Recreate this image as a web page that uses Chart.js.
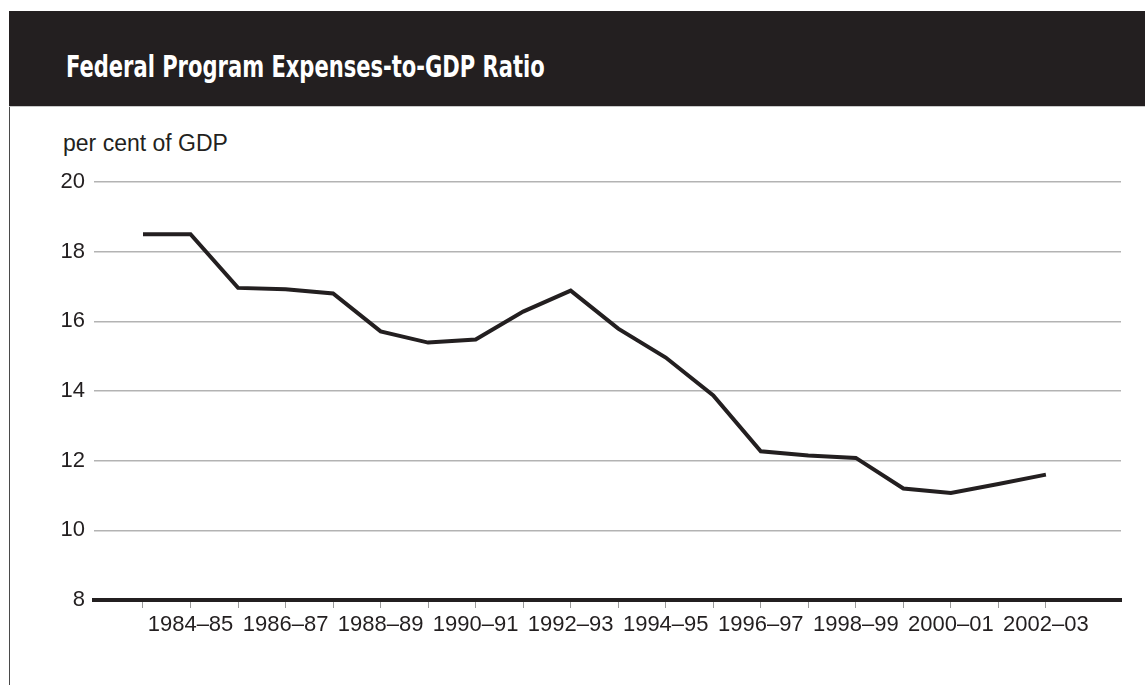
<!DOCTYPE html>
<html>
<head>
<meta charset="utf-8">
<script src="https://cdn.jsdelivr.net/npm/chart.js@4"></script>
<style>
  html, body { margin: 0; padding: 0; background: #fff; }
  body { width: 1145px; height: 685px; position: relative; overflow: hidden; }
  .header {
    position: absolute; left: 9px; top: 11px; width: 1136px; height: 95px;
    background: #231f20; border-bottom: 1px solid #c8c8c8;
  }
  .header h1 {
    margin: 0; position: absolute; left: 57px; top: 41px; white-space: nowrap;
    color: #fff; font-family: 'DejaVu Sans Condensed', 'DejaVu Sans', sans-serif;
    font-weight: bold; font-size: 30px; line-height: 30px;
    transform: scaleX(0.78); transform-origin: left top;
  }
  .frame { position: absolute; left: 9px; top: 85px; width: 1px; height: 600px; background: #4a4a4a; }
  .unit {
    position: absolute; left: 63px; top: 130px;
    font-family: 'Liberation Sans', Arial, sans-serif; font-size: 23px; color: #231f20;
  }
  #wrap { position: absolute; left: 0; top: 0; width: 1145px; height: 685px; }
</style>
</head>
<body>
<div class="frame"></div>
<div class="header"><h1>Federal Program Expenses-to-GDP Ratio</h1></div>
<div class="unit">per cent of GDP</div>
<div id="wrap"><canvas id="chart"></canvas></div>
<script>
// fiscal years shown on the x axis (every second one is labelled)
const YEARS = [
  '1983–84', '1984–85', '1985–86', '1986–87', '1987–88', '1988–89', '1989–90',
  '1990–91', '1991–92', '1992–93', '1993–94', '1994–95', '1995–96', '1996–97',
  '1997–98', '1998–99', '1999–00', '2000–01', '2001–02', '2002–03',
];

// program expenses, per cent of GDP
const EXPENSES = [
  18.5, 18.5, 16.96, 16.92, 16.8, 15.71, 15.39, 15.48, 16.28, 16.88,
  15.79, 14.96, 13.87, 12.27, 12.15, 12.08, 11.2, 11.07, 11.33, 11.6,
];

const Y_TICKS = [8, 10, 12, 14, 16, 18, 20];

const INK = '#231f20';
const FONT = "'Liberation Sans', Arial, sans-serif";

const ctx = document.getElementById('chart');

new Chart(ctx, {
  type: 'line',
  data: {
    datasets: [{
      label: 'Program expenses',
      data: EXPENSES.map((v, i) => ({ x: i, y: v })),
      borderColor: INK,
      borderWidth: 4,
      pointRadius: 0,
      tension: 0,
      borderJoinStyle: 'miter',
    }],
  },
  options: {
    responsive: true,
    maintainAspectRatio: false,
    animation: false,
    layout: { padding: { left: 0, right: 24, top: 182, bottom: 0 } },
    plugins: { legend: { display: false }, tooltip: { enabled: false } },
    scales: {
      x: {
        type: 'linear',
        min: -1.031,
        max: 20.58,
        afterBuildTicks: (scale) => { scale.ticks = YEARS.map((_, i) => ({ value: i })); },
        afterFit: (scale) => { scale.height = 85; },
        border: { display: true, color: INK, width: 4 },
        grid: { drawOnChartArea: false, drawTicks: true, tickLength: 8, color: '#9a9a9a', lineWidth: 1 },
        ticks: {
          autoSkip: false, maxRotation: 0, padding: 4,
          color: INK, font: { family: FONT, size: 22 },
          callback: (v) => (v % 2 === 1 ? YEARS[v] : ''),
        },
      },
      y: {
        min: 8,
        max: 20,
        afterBuildTicks: (scale) => { scale.ticks = Y_TICKS.map((v) => ({ value: v })); },
        afterFit: (scale) => { scale.width = 94; },
        border: { display: false },
        grid: { drawTicks: false, color: '#b3b3b3', lineWidth: 1.5 },
        ticks: {
          padding: 9,
          color: INK, font: { family: FONT, size: 22 },
        },
      },
    },
  },
});
</script>
</body>
</html>
